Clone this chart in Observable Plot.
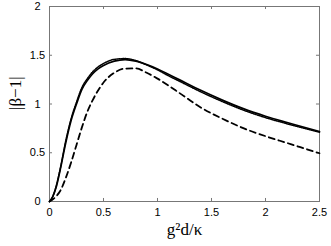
<!DOCTYPE html>
<html>
<head>
<meta charset="utf-8">
<script src="https://cdn.jsdelivr.net/npm/d3@7"></script>
<script src="https://cdn.jsdelivr.net/npm/@observablehq/plot@0.6"></script>
<style>
  html, body { margin: 0; padding: 0; background: #fff; }
</style>
</head>
<body>
<div id="chart"></div>
<script>
const xTickValues = [0, 0.5, 1, 1.5, 2, 2.5];
const yTickValues = [0, 0.5, 1, 1.5, 2];
const xInner = [0.5, 1, 1.5, 2];
const yInner = [0.5, 1, 1.5];

const xSolid = [0, 0.03, 0.06, 0.1, 0.15, 0.2, 0.25, 0.3, 0.35, 0.4, 0.45, 0.5, 0.6, 0.7, 0.8, 0.9, 1.0, 1.1, 1.2, 1.4, 1.6, 1.8, 2.0, 2.2, 2.5];
const ySolid = [0, 0.05, 0.14, 0.33, 0.6, 0.83, 1.0, 1.15, 1.24, 1.31, 1.36, 1.395, 1.44, 1.456, 1.44, 1.405, 1.36, 1.305, 1.25, 1.14, 1.04, 0.95, 0.875, 0.81, 0.718];

const xDotted = [0, 0.03, 0.06, 0.1, 0.15, 0.2, 0.25, 0.3, 0.35, 0.4, 0.45, 0.5, 0.6, 0.7, 0.8, 0.9, 1.0, 1.1, 1.2, 1.4, 1.6, 1.8, 2.0, 2.2, 2.5];
const yDotted = [0, 0.05, 0.15, 0.34, 0.62, 0.85, 1.02, 1.17, 1.26, 1.33, 1.38, 1.415, 1.458, 1.466, 1.445, 1.4, 1.35, 1.29, 1.235, 1.125, 1.025, 0.935, 0.86, 0.797, 0.71];

const xDashed = [0, 0.05, 0.1, 0.15, 0.2, 0.25, 0.3, 0.35, 0.4, 0.5, 0.6, 0.7, 0.8, 0.9, 1.0, 1.1, 1.2, 1.4, 1.6, 1.8, 2.0, 2.2, 2.5];
const yDashed = [0, 0.04, 0.11, 0.24, 0.4, 0.58, 0.76, 0.92, 1.04, 1.22, 1.32, 1.363, 1.365, 1.32, 1.26, 1.19, 1.115, 0.965, 0.85, 0.75, 0.67, 0.6, 0.495];

const xLabel = "g²d/κ";
const yLabel = "|β−1|";

const toRows = (xs, ys) => xs.map((x, i) => ({x, y: ys[i]}));

const chart = Plot.plot({
  width: 331,
  height: 246,
  marginLeft: 49,
  marginRight: 12,
  marginTop: 6,
  marginBottom: 45,
  style: {fontFamily: "'Liberation Sans', Arial, sans-serif", fontSize: "11px", background: "#fff", color: "#000"},
  x: {domain: [0, 2.5]},
  y: {domain: [0, 2]},
  marks: [
    Plot.frame({stroke: "#777"}),
    Plot.ruleX(xInner, {y1: 0, y2: 0.031, stroke: "#777"}),
    Plot.ruleX(xInner, {y1: 2, y2: 2 - 0.031, stroke: "#777"}),
    Plot.ruleY(yInner, {x1: 0, x2: 0.028, stroke: "#777"}),
    Plot.ruleY(yInner, {x1: 2.5, x2: 2.5 - 0.028, stroke: "#777"}),
    Plot.axisX({ticks: xTickValues, tickSize: 0, tickPadding: 7, label: null, tickFormat: d => String(d), fontSize: 11}),
    Plot.axisY({ticks: yTickValues, tickSize: 0, tickPadding: 12, textAnchor: "middle", label: null, tickFormat: d => String(d), fontSize: 11}),
    Plot.line(toRows(xDashed, yDashed), {x: "x", y: "y", stroke: "#000", strokeWidth: 1.8, strokeDasharray: "6,4", curve: "monotone-x"}),
    Plot.line(toRows(xDotted, yDotted), {x: "x", y: "y", stroke: "#000", strokeWidth: 1.5, strokeDasharray: "1,1", curve: "monotone-x"}),
    Plot.line(toRows(xSolid, ySolid), {x: "x", y: "y", stroke: "#000", strokeWidth: 1.7, curve: "monotone-x"}),
    Plot.text([xLabel], {frameAnchor: "bottom", dy: 33, fontFamily: "'Liberation Serif', 'Times New Roman', serif", fontSize: 17, fill: "#000"}),
    Plot.text([yLabel], {frameAnchor: "left", dx: -34, dy: 6, rotate: -90, fontFamily: "'Liberation Serif', 'Times New Roman', serif", fontSize: 17, fill: "#000"})
  ]
});
document.getElementById("chart").appendChild(chart);
</script>
</body>
</html>
